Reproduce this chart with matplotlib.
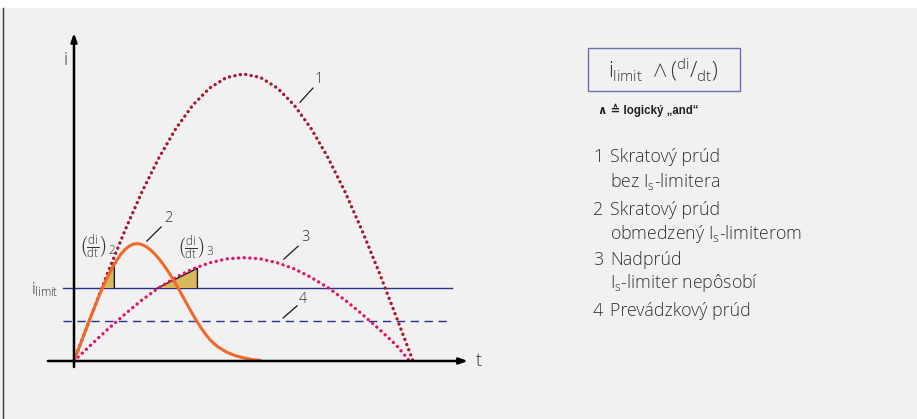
import matplotlib
matplotlib.use("Agg")
import matplotlib.pyplot as plt
from matplotlib.patches import Rectangle, Polygon

plt.rcParams['font.family'] = ['Open Sans', 'Liberation Sans', 'DejaVu Sans']
plt.rcParams['font.weight'] = 'light'
plt.rcParams['mathtext.fontset'] = 'custom'
plt.rcParams['mathtext.rm'] = 'Open Sans:light'
plt.rcParams['mathtext.it'] = 'Open Sans:light'
plt.rcParams['mathtext.bf'] = 'Open Sans:bold'

# ---------------- data ----------------
t_full = [0, 0.5, 1, 1.5, 2, 2.5, 3, 3.5, 4, 4.5, 5, 5.5, 6, 6.5, 7, 7.5, 8, 8.5, 9, 9.5, 10]
curve1 = [0, 1.56, 3.09, 4.54, 5.88, 7.07, 8.09, 8.91, 9.51, 9.88, 10.0,
          9.88, 9.51, 8.91, 8.09, 7.07, 5.88, 4.54, 3.09, 1.56, 0]
t_curve3 = [0, 0.5, 1, 1.5, 2, 2.5, 3, 3.5, 4, 4.5, 5, 5.5, 6, 6.5, 7, 7.5, 8, 8.5, 9, 9.5, 9.9]
curve3 = [0, 0.56, 1.11, 1.63, 2.12, 2.55, 2.91, 3.21, 3.42, 3.56, 3.60,
          3.56, 3.42, 3.21, 2.91, 2.55, 2.12, 1.63, 1.11, 0.56, 0]
t_curve2 = [0, 0.25, 0.5, 0.75, 0.875, 1.0, 1.125, 1.25, 1.375, 1.5, 1.625, 1.75, 1.875,
            2.0, 2.125, 2.25, 2.375, 2.5, 2.625, 2.75, 2.875, 3.0, 3.125, 3.25, 3.375,
            3.5, 3.625, 3.75, 3.875, 4.0, 4.125, 4.25, 4.5, 4.75, 5.0, 5.25, 5.5]
curve2 = [0, 0.78, 1.56, 2.30, 2.64, 2.95, 3.24, 3.49, 3.71, 3.88, 4.00, 4.07, 4.09,
          4.06, 3.99, 3.88, 3.74, 3.57, 3.38, 3.17, 2.94, 2.69, 2.43, 2.16, 1.89,
          1.63, 1.38, 1.15, 0.94, 0.76, 0.61, 0.49, 0.31, 0.19, 0.11, 0.05, 0.02]
i_limit = 2.54
i_operating = 1.39
# slope triangles: (t_start, t_end, i_top)
tri2 = (0.82, 1.19, 3.44)
tri3 = (2.46, 3.64, 3.23)

curve_labels = ['1', '2', '3', '4']
legend_items = [('1', ['Skratový prúd', 'bez I$_\\mathrm{s}$-limitera']),
                ('2', ['Skratový prúd', 'obmedzený I$_\\mathrm{s}$-limiterom']),
                ('3', ['Nadprúd', 'I$_\\mathrm{s}$-limiter nepôsobí']),
                ('4', ['Prevádzkový prúd'])]

# ---------------- figure ----------------
W, H = 917, 419
fig = plt.figure(figsize=(W / 100, H / 100), dpi=100)
fig.patch.set_facecolor('#f1f1f1')
fig.patches.append(Rectangle((0, 1 - 8 / H), 1, 8 / H, transform=fig.transFigure,
                             facecolor='white', edgecolor='none', zorder=0))
fig.lines.append(plt.Line2D([3 / W, 3 / W], [0, 1 - 8 / H], transform=fig.transFigure,
                            color='#3a3a3a', lw=1.0))

ax = fig.add_axes([0, 0, 1, 1])
ax.set_facecolor('none')
x0, sx = 74.0, 33.9
y0, sy = 361.0, 28.7
ax.set_xlim(-x0 / sx, (W - x0) / sx)
ax.set_ylim(-(H - y0) / sy, y0 / sy)
ax.axis('off')

navy = '#2b2f8f'
ax.plot([-0.32, 11.15], [i_limit, i_limit], color=navy, lw=1.0, zorder=2)
ax.plot([-0.32, 11.15], [i_operating, i_operating], color=navy, lw=1.0,
        dashes=(6, 4), zorder=2)

for (ta, tb, top) in (tri2, tri3):
    ax.add_patch(Polygon([[ta, i_limit], [tb, i_limit], [tb, top]], closed=True,
                         facecolor='#d9b85c', edgecolor='none', zorder=3))
    ax.plot([ta, tb, tb], [i_limit, top, i_limit], color='#1a1a1a', lw=1.0, zorder=3)

ax.plot(t_full, curve1, color='#a51a33', lw=2.4, dashes=(0.05, 1.6),
        dash_capstyle='round', zorder=4)
ax.plot(t_curve3, curve3, color='#e0166c', lw=2.4, dashes=(0.05, 1.65),
        dash_capstyle='round', zorder=4)
ax.plot(t_curve2, curve2, color='#f0692b', lw=2.2, solid_capstyle='round',
        solid_joinstyle='round', zorder=5)

ax.annotate('', xy=(11.62, 0), xytext=(-0.77, 0),
            arrowprops=dict(arrowstyle='-|>,head_length=0.5,head_width=0.18',
                            color='black', lw=1.8, shrinkA=0, shrinkB=0), zorder=6)
ax.annotate('', xy=(0, 11.43), xytext=(0, -0.21),
            arrowprops=dict(arrowstyle='-|>,head_length=0.5,head_width=0.18',
                            color='black', lw=1.8, shrinkA=0, shrinkB=0), zorder=6)

txt = '#333333'
ax.text(-0.24, 10.5, 'i', fontsize=13, color=txt, ha='center', va='center')
ax.text(11.95, 0.0, 't', fontsize=13, color=txt, ha='center', va='center')
ax.text(-0.45, i_limit - 0.05, r'$i_{limit}$', fontsize=12, color=txt, ha='right', va='center')

ax.text(0.15, 3.95, r'$\left(\frac{di}{dt}\right)_{2}$', fontsize=12, color=txt,
        ha='left', va='center')
ax.text(3.05, 3.92, r'$\left(\frac{di}{dt}\right)_{3}$', fontsize=12, color=txt,
        ha='left', va='center')

leaders = [((6.67, 9.02), (7.05, 9.51), (7.23, 9.80)),
           ((2.15, 4.18), (2.57, 4.67), (2.77, 4.98)),
           ((6.19, 3.55), (6.61, 4.00), (6.84, 4.32)),
           ((6.17, 1.50), (6.58, 1.92), (6.76, 2.16))]
for lab, (p1, p2, pt) in zip(curve_labels, leaders):
    ax.plot([p1[0], p2[0]], [p1[1], p2[1]], color='#1a1a1a', lw=0.9, zorder=6)
    ax.text(pt[0], pt[1], lab, fontsize=10.5, color=txt, ha='center', va='center')

def fx(px):
    return px / W

def fy(py):
    return 1 - py / H

fig.patches.append(Rectangle((fx(587.5), fy(91)), fx(739.5) - fx(587.5), fy(48.5) - fy(91),
                             transform=fig.transFigure, facecolor='none',
                             edgecolor='#6b6fb8', lw=1.0))
fig.text(fx(663), fy(70), r'$i_{limit}\ \wedge(^{di}/_{dt})$', fontsize=15.5, color=txt,
         ha='center', va='center')
fig.text(fx(598), fy(110), '\u2227 \u2259 logický \u201eand\u201c', fontsize=8.3,
         fontweight='bold', color='#222222', ha='left', va='center',
         family=['Liberation Sans', 'DejaVu Sans'])

item_y = [157.5, 210, 260, 311.5]
line_gap = 23.5
for (num, lines), yy in zip(legend_items, item_y):
    fig.text(fx(593), fy(yy), num, fontsize=12.8, color=txt, ha='left', va='center')
    for k, ln in enumerate(lines):
        fig.text(fx(610), fy(yy + k * line_gap), ln, fontsize=12.8, color=txt,
                 ha='left', va='center')

fig.savefig('out.png', dpi=100, facecolor=fig.get_facecolor())
